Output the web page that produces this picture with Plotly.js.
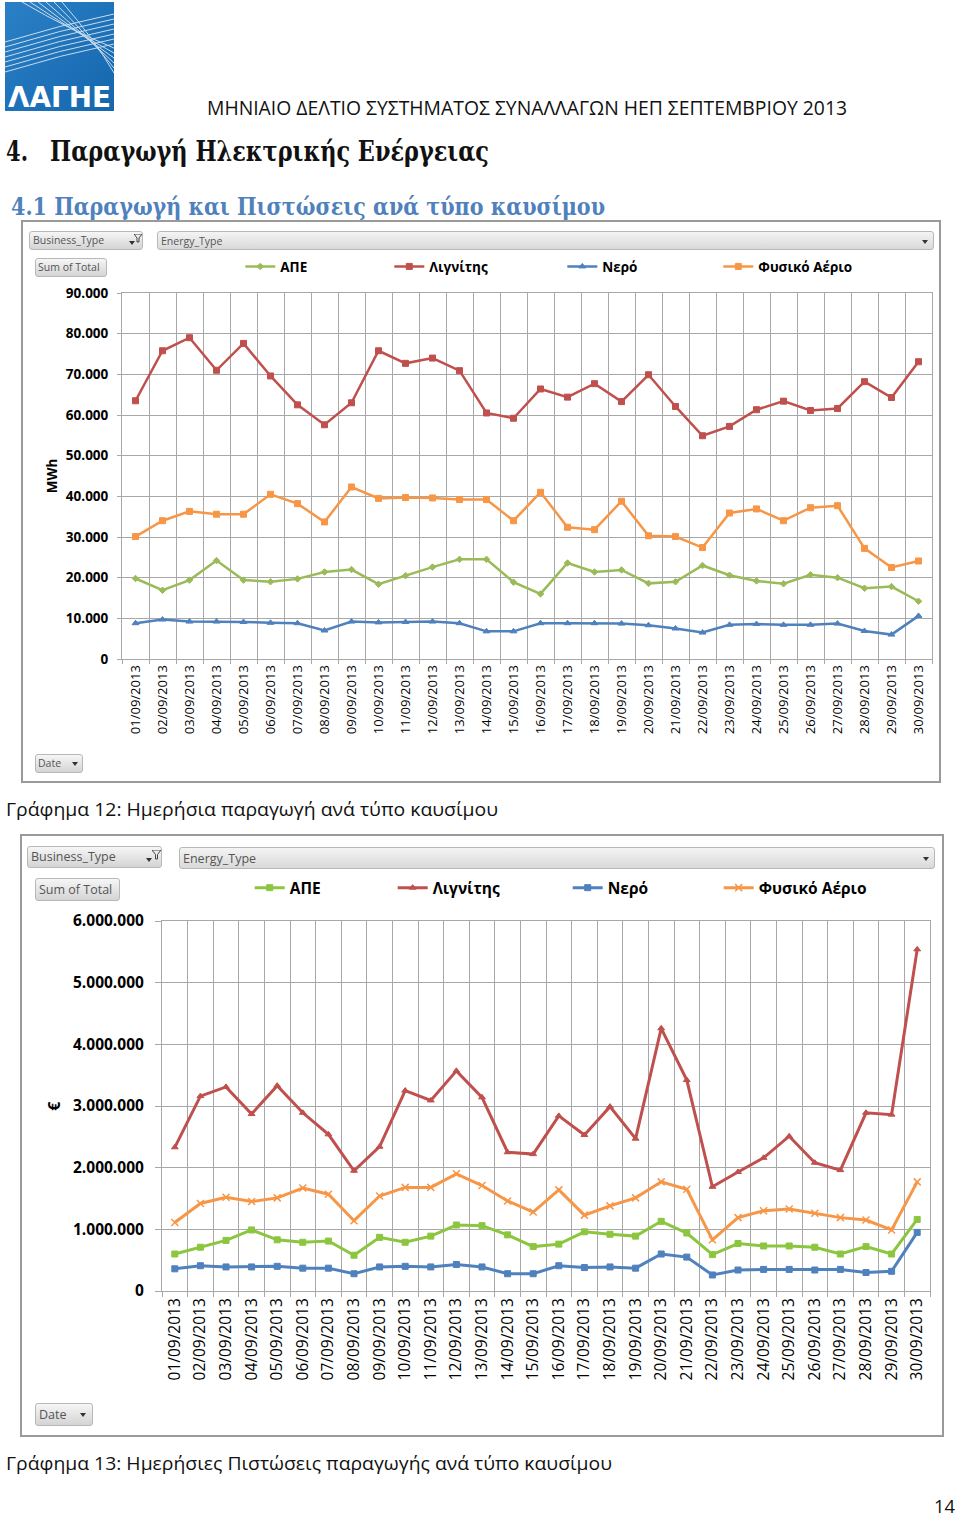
<!DOCTYPE html>
<html>
<head>
<meta charset="utf-8">
<script src="https://cdn.plot.ly/plotly-3.0.1.min.js"></script>
<style>
  html,body{margin:0;padding:0;background:#fff;}
  #page{position:relative;width:960px;height:1519px;overflow:hidden;background:#fff;}
  #bg{position:absolute;left:0;top:0;}
  .plot{position:absolute;}
  .btn{position:absolute;box-sizing:border-box;border:1px solid #b8b8b8;border-radius:3px;
       background:linear-gradient(#f6f6f6,#d4d4d4);font-family:'Open Sans',sans-serif;color:#555;
       white-space:nowrap;z-index:10;}
  .btn span{position:absolute;}
  .arr{position:absolute;width:0;height:0;border-left:3px solid transparent;border-right:3px solid transparent;border-top:4px solid #333;}
</style>
</head>
<body>
<div id="page">
<svg id="bg" width="960" height="1519" xmlns="http://www.w3.org/2000/svg">
  <defs>
    <linearGradient id="lg" x1="0" y1="0" x2="1" y2="1">
      <stop offset="0" stop-color="#2a80c6"/>
      <stop offset="1" stop-color="#1566ad"/>
    </linearGradient>
  </defs>
  <rect x="5" y="2" width="109" height="109" fill="url(#lg)"/>
  <g stroke="#ffffff" fill="none" stroke-width="1" opacity="0.75">
    <path d="M5 42 Q60 25 114 14"/>
    <path d="M5 47 Q60 30 114 19"/>
    <path d="M5 52 Q60 35 114 24"/>
    <path d="M5 57 Q60 40 114 29"/>
    <path d="M5 62 Q60 45 114 34"/>
    <path d="M5 67 Q60 50 114 39"/>
    <path d="M5 72 Q60 55 114 44"/>
    <path d="M22 2 Q70 30 114 48"/>
    <path d="M30 2 Q75 32 114 53"/>
    <path d="M38 2 Q80 34 114 58"/>
    <path d="M46 2 Q85 36 114 63"/>
    <path d="M54 2 Q90 38 114 68"/>
    <path d="M62 2 Q95 40 114 73"/>
  </g>
  <text x="8" y="107" font-family="DejaVu Sans" font-weight="bold" font-size="28" fill="#ffffff" textLength="103" lengthAdjust="spacingAndGlyphs">ΛΑΓΗΕ</text>

  <text x="207" y="115" font-family="Open Sans" font-size="20" fill="#111" textLength="640" lengthAdjust="spacingAndGlyphs">ΜΗΝΙΑΙΟ ΔΕΛΤΙΟ ΣΥΣΤΗΜΑΤΟΣ ΣΥΝΑΛΛΑΓΩΝ ΗΕΠ ΣΕΠΤΕΜΒΡΙΟΥ 2013</text>
  <text x="6" y="161" font-family="DejaVu Serif" font-weight="bold" font-size="27" fill="#111" textLength="22" lengthAdjust="spacingAndGlyphs">4.</text>
  <text x="50" y="161" font-family="DejaVu Serif" font-weight="bold" font-size="27" fill="#111" textLength="439" lengthAdjust="spacingAndGlyphs">Παραγωγή Ηλεκτρικής Ενέργειας</text>
  <text x="11" y="215" font-family="DejaVu Serif" font-weight="bold" font-size="25" fill="#4f81bd" textLength="594" lengthAdjust="spacingAndGlyphs">4.1 Παραγωγή και Πιστώσεις ανά τύπο καυσίμου</text>

  <rect x="22" y="221" width="918" height="561" fill="none" stroke="#9a9a9a" stroke-width="2"/>
  <rect x="21" y="835" width="922" height="601" fill="none" stroke="#9a9a9a" stroke-width="2"/>

  <text x="6" y="816" font-family="Open Sans" font-size="19" fill="#111" textLength="492" lengthAdjust="spacingAndGlyphs">Γράφημα 12: Ημερήσια παραγωγή ανά τύπο καυσίμου</text>
  <text x="6" y="1470" font-family="Open Sans" font-size="19" fill="#111" textLength="606" lengthAdjust="spacingAndGlyphs">Γράφημα 13: Ημερήσιες Πιστώσεις παραγωγής ανά τύπο καυσίμου</text>
  <text x="934" y="1513" font-family="Open Sans" font-size="18" fill="#111" textLength="21" lengthAdjust="spacingAndGlyphs">14</text>
</svg>

<div id="chart1" class="plot" style="left:22px;top:221px;width:918px;height:561px;"></div>
<div id="chart2" class="plot" style="left:21px;top:835px;width:922px;height:601px;"></div>

<!-- pivot chart field buttons, chart 1 -->
<div class="btn" style="left:29px;top:231px;width:114px;height:19px;font-size:10.5px;">
  <span style="left:3px;top:1px;">Business_Type</span>
  <div class="arr" style="left:99px;top:9px;"></div>
  <svg style="position:absolute;left:104px;top:2px" width="8" height="9"><path d="M0 0 L8 0 L5 4 L5 8 L3 8 L3 4 Z" fill="none" stroke="#444" stroke-width="1"/></svg>
</div>
<div class="btn" style="left:157px;top:231px;width:777px;height:19px;font-size:10.5px;background:linear-gradient(#f4f4f4,#d9d9d9);">
  <span style="left:3px;top:2px;">Energy_Type</span>
  <div class="arr" style="left:764px;top:8px;"></div>
</div>
<div class="btn" style="left:35px;top:258px;width:72px;height:19px;font-size:10.5px;">
  <span style="left:2px;top:1px;">Sum of Total</span>
</div>
<div class="btn" style="left:35px;top:754px;width:48px;height:19px;font-size:10.5px;">
  <span style="left:2px;top:1px;">Date</span>
  <div class="arr" style="left:36px;top:7px;"></div>
</div>

<!-- pivot chart field buttons, chart 2 -->
<div class="btn" style="left:27px;top:846px;width:135px;height:22px;font-size:12.5px;">
  <span style="left:3px;top:1px;">Business_Type</span>
  <div class="arr" style="left:118px;top:11px;"></div>
  <svg style="position:absolute;left:124px;top:3px" width="9" height="10"><path d="M0 0 L9 0 L5.5 4.5 L5.5 9 L3.5 9 L3.5 4.5 Z" fill="none" stroke="#444" stroke-width="1"/></svg>
</div>
<div class="btn" style="left:179px;top:847px;width:756px;height:22px;font-size:12.5px;background:linear-gradient(#f4f4f4,#d9d9d9);">
  <span style="left:3px;top:2px;">Energy_Type</span>
  <div class="arr" style="left:743px;top:9px;"></div>
</div>
<div class="btn" style="left:35px;top:878px;width:85px;height:23px;font-size:12.5px;">
  <span style="left:3px;top:2px;">Sum of Total</span>
</div>
<div class="btn" style="left:35px;top:1403px;width:58px;height:23px;font-size:12.5px;">
  <span style="left:3px;top:2px;">Date</span>
  <div class="arr" style="left:44px;top:9px;"></div>
</div>
</div>

<script>
// ---------- data ----------
const dates = ['01/09/2013','02/09/2013','03/09/2013','04/09/2013','05/09/2013','06/09/2013','07/09/2013','08/09/2013','09/09/2013','10/09/2013',
               '11/09/2013','12/09/2013','13/09/2013','14/09/2013','15/09/2013','16/09/2013','17/09/2013','18/09/2013','19/09/2013','20/09/2013',
               '21/09/2013','22/09/2013','23/09/2013','24/09/2013','25/09/2013','26/09/2013','27/09/2013','28/09/2013','29/09/2013','30/09/2013'];
const seriesNames = ['ΑΠΕ','Λιγνίτης','Νερό','Φυσικό Αέριο'];

// Chart 12: daily production (MWh)
const prodAPE     = [19800,16900,19400,24200,19400,19000,19700,21400,22000,18400,20500,22600,24500,24500,18900,16000,23600,21400,21900,18600,19000,23000,20600,19200,18500,20700,20000,17400,17800,14200];
const prodLignite = [63500,75800,79000,71000,77600,69600,62500,57600,63000,75800,72700,74000,70900,60500,59200,66400,64400,67700,63300,69900,62100,54900,57200,61300,63400,61100,61600,68200,64300,73100];
const prodHydro   = [8800,9700,9200,9200,9100,8900,8800,7000,9200,9000,9100,9200,8800,6800,6800,8800,8800,8800,8700,8300,7500,6500,8400,8600,8400,8400,8700,6900,6000,10600];
const prodGas     = [30100,34000,36300,35600,35600,40500,38200,33700,42300,39500,39700,39600,39200,39200,34000,41000,32400,31800,38800,30300,30100,27400,35900,36900,34000,37200,37700,27200,22500,24100];

// Chart 13: daily production credits (€)
const credAPE     = [600000,710000,820000,990000,830000,790000,810000,580000,870000,790000,890000,1070000,1060000,910000,720000,760000,960000,920000,890000,1130000,940000,590000,770000,730000,730000,710000,600000,720000,600000,1160000];
const credLignite = [2330000,3160000,3310000,2870000,3330000,2890000,2540000,1950000,2340000,3250000,3090000,3570000,3140000,2250000,2220000,2840000,2530000,2990000,2470000,4260000,3420000,1690000,1930000,2160000,2510000,2080000,1960000,2890000,2860000,5540000];
const credHydro   = [360000,410000,390000,390000,400000,370000,370000,280000,390000,400000,390000,430000,390000,280000,280000,410000,380000,390000,370000,600000,550000,260000,340000,350000,350000,340000,350000,300000,320000,950000];
const credGas     = [1110000,1420000,1520000,1450000,1510000,1670000,1570000,1140000,1540000,1680000,1680000,1900000,1710000,1460000,1280000,1640000,1230000,1380000,1510000,1770000,1650000,830000,1190000,1300000,1330000,1260000,1190000,1150000,990000,1770000];

// ---------- styling ----------
const GRID = '#a8a8a8';
const FONT = 'Open Sans, sans-serif';

function mkTrace(name, y, color, symbol, msize, lw, leg) {
  return {
    type: 'scatter', mode: 'lines+markers', name: name, x: dates, y: y,
    line: {color: color, width: lw},
    marker: {symbol: symbol, size: msize, color: color, line: {color: color, width: 1}},
    legend: leg, cliponaxis: false
  };
}

function mkLegend(x, y, size) {
  return {x: x, y: y, xanchor: 'left', yanchor: 'middle', orientation: 'h',
          bgcolor: 'rgba(0,0,0,0)', borderwidth: 0,
          font: {family: FONT, size: size, color: '#000', weight: 'bold'}};
}

function mkLayout(o) {
  const pw = o.w - o.l - o.r;
  const px = p => (p - o.plotLeftPage) / pw;
  return {
    width: o.w, height: o.h,
    margin: {l: o.l, r: o.r, t: o.t, b: o.b, pad: 0},
    paper_bgcolor: 'rgba(0,0,0,0)', plot_bgcolor: '#ffffff',
    separators: ',.',
    showlegend: true,
    xaxis: {type: 'category', tickson: 'boundaries', range: [-0.5, 29.5], autorange: false,
            showgrid: true, gridcolor: GRID, gridwidth: 1,
            ticks: 'outside', ticklen: o.xtl, tickcolor: GRID, tickwidth: 1,
            tickangle: -90, tickfont: {family: FONT, size: o.xfs, color: '#000'},
            showline: true, linecolor: GRID, linewidth: 1, mirror: true, zeroline: false, automargin: false},
    yaxis: {range: [0, o.ymax], autorange: false, dtick: o.dtick, tickformat: ',d',
            showgrid: true, gridcolor: GRID, gridwidth: 1,
            ticks: 'outside', ticklen: o.ytl, tickcolor: GRID, ticklabelstandoff: o.yso,
            tickfont: {family: FONT, size: o.yfs, color: '#000', weight: 'bold'},
            showline: true, linecolor: GRID, linewidth: 1, mirror: true, zeroline: false, automargin: false},
    legend:  mkLegend(px(o.legX[0]), o.legY, o.lfs),
    legend2: mkLegend(px(o.legX[1]), o.legY, o.lfs),
    legend3: mkLegend(px(o.legX[2]), o.legY, o.lfs),
    legend4: mkLegend(px(o.legX[3]), o.legY, o.lfs),
    annotations: [{xref: 'paper', yref: 'paper', x: px(o.titleX), y: 0.5, text: o.ytitle,
                   textangle: -90, showarrow: false, xanchor: 'center', yanchor: 'middle',
                   font: {family: FONT, size: o.tfs, color: '#000', weight: 'bold'}}]
  };
}

// Chart 1
const c1 = [
  mkTrace(seriesNames[0], prodAPE,     '#9bbb59', 'diamond',     5, 2.5, 'legend'),
  mkTrace(seriesNames[1], prodLignite, '#c0504d', 'square',      6, 2.5, 'legend2'),
  mkTrace(seriesNames[2], prodHydro,   '#4f81bd', 'triangle-up', 6, 2.5, 'legend3'),
  mkTrace(seriesNames[3], prodGas,     '#f79646', 'square',      6, 2.5, 'legend4')
];
const l1 = mkLayout({w: 918, h: 561, l: 100, r: 8, t: 72, b: 123, plotLeftPage: 121.7,
  ymax: 90000, dtick: 10000, xfs: 13, yfs: 13.5, xtl: 4, ytl: 4, yso: 6,
  legX: [240, 389, 562, 718], legY: 1.072, lfs: 13.5,
  titleX: 52, ytitle: 'MWh', tfs: 13.5});
Plotly.newPlot('chart1', c1, l1, {staticPlot: true, displayModeBar: false});

// Chart 2
const c2 = [
  mkTrace(seriesNames[0], credAPE,     '#8cc63f', 'square',      6, 3, 'legend'),
  mkTrace(seriesNames[1], credLignite, '#c0504d', 'triangle-up', 6, 3, 'legend2'),
  mkTrace(seriesNames[2], credHydro,   '#4f81bd', 'square',      6, 3, 'legend3'),
  mkTrace(seriesNames[3], credGas,     '#f79646', 'x-thin',      7, 3, 'legend4')
];
c2[3].marker.line = {color: '#f79646', width: 1.5};
const l2 = mkLayout({w: 922, h: 601, l: 141, r: 13, t: 86, b: 145, plotLeftPage: 162.3,
  ymax: 6000000, dtick: 1000000, xfs: 15.5, yfs: 15.5, xtl: 5, ytl: 6, yso: 8,
  legX: [250, 393, 568, 719], legY: 1.089, lfs: 15.5,
  titleX: 54, ytitle: '€', tfs: 16});
Plotly.newPlot('chart2', c2, l2, {staticPlot: true, displayModeBar: false});
</script>
</body>
</html>
